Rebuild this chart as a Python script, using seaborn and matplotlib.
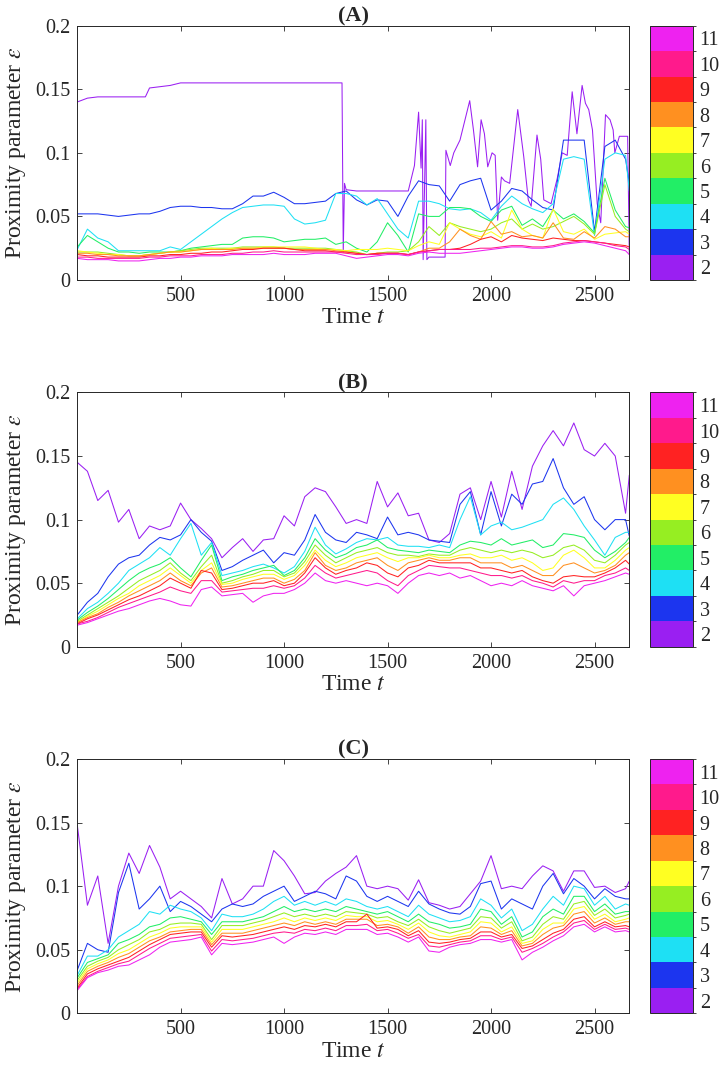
import numpy as np
import pandas as pd
import seaborn as sns
import matplotlib.pyplot as plt
from matplotlib.colors import ListedColormap, BoundaryNorm
from matplotlib.cm import ScalarMappable

# Proximity parameter eps per cluster count k
# values are in units of 1e-3, sampled at t = 1, 50, 100, ..., 2650, 2668

t_grid = [1] + list(range(50, 2651, 50)) + [2668]
k_list = [2, 3, 4, 5, 6, 7, 8, 9, 10, 11]
k_colors = ['#9a1ff2', '#1c35ef', '#1ee0f4', '#22ee66', '#96ee22',
            '#ffff22', '#ff9020', '#ff2222', '#ff1a8c', '#ee22f0']

# ---- panel A ----
t_a2 = [1, 50, 100, 150, 200, 250, 300, 330, 350, 400, 450, 500,
        550, 600, 650, 700, 750, 800, 850, 900, 950, 1000, 1050, 1100, 1150, 1200, 1250,
        1280, 1286, 1292, 1300, 1350, 1400, 1450, 1500, 1550, 1600, 1630, 1650,
        1662, 1668, 1672, 1685, 1690, 1700, 1750, 1778, 1782, 1803, 1820, 1850,
        1897, 1915, 1935, 1952, 1968, 1984, 2005, 2020, 2032, 2050, 2065, 2090,
        2129, 2158, 2180, 2194, 2222, 2240, 2255, 2290, 2320, 2344, 2368, 2392,
        2415, 2440, 2456, 2472, 2490, 2513, 2530, 2553, 2575, 2590, 2598, 2620,
        2660, 2668]
a2 = [140, 143, 144, 144, 144, 144, 144, 144, 151, 152, 153, 155,
      155, 155, 155, 155, 155, 155, 155, 155, 155, 155, 155, 155, 155, 155, 155,
      155, 22, 76, 71, 70, 70, 70, 70, 70, 70, 90, 132,
      88, 126, 16, 126, 16, 18, 18, 18, 102, 90, 100, 110,
      141, 118, 89, 126, 115, 89, 100, 98, 47, 81, 78, 76,
      134, 97, 63, 58, 114, 95, 63, 60, 80, 100, 98, 148,
      115, 153, 139, 134, 118, 60, 45, 130, 126, 118, 100, 113,
      113, 20]
a3 = [52, 52, 52, 51, 50, 51, 52, 52, 54, 57, 58,
      58, 57, 57, 56, 56, 60, 66, 66, 69, 65,
      60, 60, 61, 62, 68, 70, 63, 59, 63, 62,
      50, 66, 78, 75, 74, 62, 75, 78, 80, 55,
      62, 72, 70, 63, 57, 55, 110, 110, 110, 38,
      105, 110, 95, 76]
a4 = [24, 40, 33, 30, 23, 23, 23, 23, 23, 26, 24,
      30, 36, 42, 48, 53, 57, 58, 59, 59, 58,
      48, 44, 45, 47, 68, 68, 66, 59, 64, 52,
      40, 33, 62, 62, 60, 56, 55, 56, 53, 47,
      58, 66, 60, 56, 53, 60, 95, 97, 95, 35,
      95, 100, 98, 70]
a5 = [26, 35, 30, 25, 22, 22, 21, 22, 22, 22, 23,
      25, 26, 27, 28, 28, 33, 34, 34, 33, 30,
      31, 32, 32, 33, 28, 30, 25, 22, 30, 45,
      35, 22, 52, 50, 50, 57, 57, 56, 50, 46,
      55, 58, 43, 48, 42, 55, 48, 52, 46, 37,
      80, 55, 42, 41]
a6 = [22, 22, 22, 21, 20, 19, 19, 20, 21, 22, 23,
      24, 25, 25, 25, 25, 26, 26, 26, 26, 25,
      25, 25, 25, 25, 24, 23, 22, 20, 21, 22,
      22, 23, 30, 42, 35, 45, 42, 40, 38, 40,
      45, 48, 40, 44, 40, 42, 46, 50, 44, 36,
      75, 50, 40, 38]
a7 = [23, 22, 21, 20, 20, 19, 19, 20, 21, 22, 22,
      23, 24, 25, 24, 25, 25, 25, 26, 26, 26,
      26, 26, 25, 24, 24, 23, 24, 24, 24, 25,
      24, 23, 27, 30, 28, 45, 40, 36, 34, 38,
      33, 55, 40, 35, 33, 56, 38, 36, 40, 32,
      36, 37, 38, 36]
a8 = [21, 21, 20, 20, 19, 19, 19, 20, 21, 22, 22,
      23, 24, 24, 24, 24, 25, 25, 25, 25, 25,
      24, 24, 24, 24, 23, 22, 21, 20, 21, 21,
      21, 20, 22, 25, 25, 30, 40, 35, 32, 46,
      36, 38, 34, 35, 33, 45, 33, 32, 38, 33,
      42, 40, 34, 34]
a9 = [20, 19, 19, 18, 18, 18, 18, 19, 19, 20, 20,
      21, 21, 22, 22, 23, 24, 24, 25, 25, 25,
      24, 23, 23, 23, 22, 22, 21, 20, 21, 21,
      21, 20, 22, 23, 24, 24, 25, 28, 32, 34,
      30, 35, 33, 32, 31, 33, 32, 31, 31, 30,
      29, 28, 27, 26]
a10 = [18, 18, 17, 17, 17, 17, 17, 18, 18, 19, 19,
       19, 20, 20, 20, 21, 21, 22, 22, 23, 22,
       22, 22, 22, 22, 22, 21, 20, 20, 20, 21,
       21, 20, 22, 23, 24, 24, 24, 24, 25, 25,
       26, 27, 27, 26, 26, 27, 29, 30, 31, 30,
       29, 27, 26, 24]
a11 = [17, 16, 16, 16, 15, 15, 15, 16, 17, 17, 18,
       18, 19, 19, 19, 20, 20, 20, 20, 21, 20,
       20, 20, 21, 21, 21, 19, 17, 18, 19, 20,
       20, 19, 21, 22, 21, 21, 21, 22, 23, 24,
       25, 26, 26, 25, 25, 26, 28, 29, 30, 29,
       27, 25, 23, 20]

# ---- panel B ----
b2 = [145, 138, 115, 123, 98, 108, 85, 95, 92, 95, 113,
      100, 93, 85, 70, 78, 85, 75, 84, 85, 103,
      95, 118, 125, 122, 110, 97, 100, 97, 130, 110,
      121, 103, 105, 84, 82, 89, 120, 125, 100, 130,
      102, 138, 108, 142, 158, 170, 158, 176, 155, 150,
      160, 150, 105, 135]
b3 = [25, 35, 42, 55, 65, 70, 72, 80, 86, 84, 88,
      100, 90, 83, 60, 63, 68, 72, 76, 66, 74,
      72, 84, 104, 90, 84, 82, 90, 88, 85, 102,
      88, 90, 88, 84, 83, 82, 112, 122, 88, 122,
      95, 120, 112, 128, 130, 148, 125, 112, 118, 100,
      92, 100, 100, 87]
b4 = [22, 30, 35, 42, 50, 60, 65, 70, 78, 72, 85,
      97, 72, 82, 56, 58, 60, 63, 65, 62, 58,
      63, 75, 94, 80, 73, 77, 82, 85, 84, 86,
      80, 79, 79, 78, 80, 78, 100, 118, 88, 95,
      98, 92, 94, 97, 100, 112, 117, 108, 95, 84,
      72, 86, 90, 90]
b5 = [21, 27, 32, 38, 45, 52, 58, 62, 65, 70, 62,
      55, 68, 80, 52, 55, 57, 60, 62, 64, 56,
      60, 70, 85, 76, 70, 73, 78, 80, 84, 78,
      76, 75, 74, 76, 75, 74, 80, 83, 82, 80,
      85, 80, 82, 84, 78, 80, 89, 88, 86, 76,
      70, 75, 82, 86]
b6 = [20, 25, 30, 35, 40, 46, 52, 56, 60, 66, 58,
      52, 63, 72, 50, 52, 55, 57, 60, 60, 55,
      58, 67, 80, 72, 66, 70, 74, 76, 78, 74,
      72, 72, 71, 73, 72, 72, 76, 78, 76, 74,
      76, 74, 76, 74, 70, 72, 78, 80, 76, 68,
      66, 72, 80, 82]
b7 = [19, 24, 28, 33, 38, 42, 48, 52, 56, 62, 56,
      50, 60, 66, 49, 50, 53, 55, 57, 57, 53,
      56, 64, 76, 68, 63, 66, 70, 72, 74, 70,
      67, 70, 70, 72, 70, 70, 72, 73, 70, 70,
      72, 68, 70, 66, 60, 62, 72, 76, 70, 62,
      62, 68, 76, 78]
b8 = [19, 23, 26, 31, 35, 40, 44, 48, 52, 58, 52,
      48, 58, 62, 47, 48, 50, 52, 54, 54, 50,
      53, 60, 74, 64, 60, 62, 66, 68, 70, 64,
      60, 66, 68, 70, 68, 68, 70, 70, 66, 66,
      66, 62, 64, 60, 56, 56, 64, 66, 62, 58,
      60, 64, 72, 74]
b9 = [18, 22, 25, 29, 33, 37, 40, 44, 48, 54, 50,
      46, 60, 58, 45, 46, 48, 50, 50, 52, 48,
      50, 58, 70, 62, 57, 60, 62, 66, 64, 58,
      55, 62, 64, 68, 66, 66, 66, 66, 62, 62,
      60, 58, 60, 55, 52, 50, 55, 56, 55, 55,
      58, 62, 68, 65]
b10 = [18, 20, 23, 27, 31, 34, 37, 40, 43, 47, 44,
       42, 52, 52, 43, 44, 45, 46, 46, 48, 46,
       48, 54, 64, 58, 54, 56, 58, 60, 58, 52,
       48, 56, 60, 64, 63, 62, 62, 60, 58, 56,
       56, 54, 56, 52, 50, 47, 52, 50, 52, 52,
       56, 58, 62, 60]
b11 = [17, 19, 22, 25, 28, 30, 33, 36, 38, 36, 33,
       32, 45, 47, 40, 41, 42, 35, 40, 42, 42,
       45, 50, 58, 52, 50, 52, 50, 48, 50, 48,
       42, 50, 56, 58, 56, 58, 54, 56, 52, 48,
       50, 48, 52, 48, 46, 44, 48, 40, 48, 50,
       52, 55, 58, 57]

# ---- panel C ----
c2 = [148, 85, 108, 55, 100, 126, 110, 132, 115, 90, 96,
      90, 84, 75, 106, 86, 90, 100, 100, 128, 120,
      108, 94, 95, 104, 110, 115, 124, 100, 98, 100,
      98, 89, 105, 87, 85, 82, 84, 94, 104, 124,
      98, 100, 98, 108, 116, 112, 96, 112, 112, 99,
      100, 95, 98, 104]
c3 = [34, 55, 50, 48, 95, 118, 82, 90, 100, 80, 88,
      84, 78, 72, 82, 86, 84, 86, 92, 96, 100,
      88, 92, 96, 94, 90, 108, 104, 92, 88, 92,
      88, 84, 96, 86, 82, 79, 78, 84, 102, 104,
      82, 90, 86, 82, 100, 110, 94, 106, 100, 90,
      98, 92, 90, 90]
c4 = [30, 45, 45, 50, 60, 65, 70, 80, 78, 85, 82,
      80, 75, 65, 78, 76, 76, 78, 82, 88, 92,
      85, 88, 85, 88, 85, 90, 88, 84, 82, 84,
      80, 76, 85, 78, 75, 72, 73, 76, 90, 85,
      75, 82, 65, 70, 82, 92, 85, 100, 98, 85,
      92, 82, 86, 85]
c5 = [28, 40, 43, 46, 55, 58, 62, 68, 70, 75, 76,
      74, 72, 62, 72, 72, 72, 74, 76, 80, 84,
      80, 82, 80, 82, 80, 84, 82, 80, 78, 80,
      76, 72, 78, 72, 70, 67, 68, 70, 82, 80,
      70, 76, 60, 64, 76, 82, 78, 92, 92, 80,
      86, 78, 80, 80]
c6 = [26, 37, 41, 44, 50, 54, 58, 64, 66, 70, 71,
      71, 70, 58, 69, 69, 69, 71, 73, 76, 79,
      76, 78, 76, 78, 76, 80, 79, 78, 75, 76,
      72, 69, 74, 68, 65, 63, 65, 67, 76, 75,
      67, 72, 57, 60, 70, 76, 74, 86, 88, 77,
      82, 75, 77, 78]
c7 = [24, 35, 39, 42, 47, 50, 55, 60, 63, 67, 68,
      68, 68, 56, 66, 66, 66, 68, 70, 72, 75,
      72, 75, 73, 75, 73, 77, 76, 76, 72, 73,
      70, 66, 71, 64, 61, 60, 62, 64, 72, 71,
      64, 68, 55, 57, 66, 71, 71, 82, 84, 74,
      78, 72, 74, 75]
c8 = [22, 33, 37, 40, 44, 47, 52, 57, 60, 64, 65,
      66, 66, 54, 63, 63, 63, 65, 67, 69, 71,
      69, 72, 70, 72, 70, 74, 74, 74, 69, 70,
      68, 63, 68, 60, 58, 58, 60, 61, 68, 67,
      62, 65, 53, 55, 62, 67, 69, 78, 80, 71,
      75, 70, 72, 72]
c9 = [20, 31, 35, 38, 41, 44, 49, 54, 58, 62, 63,
      64, 64, 52, 61, 60, 61, 62, 64, 66, 68,
      66, 69, 68, 70, 68, 72, 72, 78, 67, 68,
      66, 61, 65, 56, 55, 56, 58, 59, 64, 64,
      60, 62, 51, 53, 58, 63, 66, 74, 76, 68,
      72, 68, 69, 68]
c10 = [19, 29, 33, 36, 39, 41, 46, 51, 55, 59, 60,
       61, 62, 49, 58, 57, 58, 59, 61, 63, 64,
       63, 66, 65, 67, 65, 69, 69, 70, 65, 66,
       63, 59, 62, 53, 52, 54, 56, 57, 61, 61,
       58, 60, 48, 51, 55, 60, 64, 71, 73, 66,
       70, 66, 67, 66]
c11 = [18, 28, 32, 34, 37, 38, 42, 46, 52, 56, 57,
       58, 60, 46, 55, 54, 55, 56, 58, 60, 55,
       60, 63, 62, 64, 62, 66, 66, 66, 62, 63,
       60, 56, 60, 49, 48, 52, 54, 55, 58, 58,
       56, 58, 42, 48, 52, 57, 61, 68, 70, 64,
       68, 64, 65, 64]

panels = {
    '(A)': [(t_a2, a2), (t_grid, a3), (t_grid, a4), (t_grid, a5), (t_grid, a6),
            (t_grid, a7), (t_grid, a8), (t_grid, a9), (t_grid, a10), (t_grid, a11)],
    '(B)': [(t_grid, s) for s in [b2, b3, b4, b5, b6, b7, b8, b9, b10, b11]],
    '(C)': [(t_grid, s) for s in [c2, c3, c4, c5, c6, c7, c8, c9, c10, c11]],
}

rows = []
for name, series in panels.items():
    for k, (tt, vals) in zip(k_list, series):
        for t, v in zip(tt, vals):
            rows.append({'panel': name, 'k': k, 't': t, 'eps': v / 1000})
df = pd.DataFrame(rows)

sns.set_style('ticks')
plt.rcParams['font.family'] = ['Liberation Serif', 'DejaVu Serif']
plt.rcParams['mathtext.fontset'] = 'stix'

fig = plt.figure(figsize=(7.25, 10.74), dpi=100)
bottoms = [0.7393, 0.3978, 0.0565]
cmap = ListedColormap(k_colors)
norm = BoundaryNorm(np.arange(1.5, 12.5, 1), cmap.N)

for name, bot in zip(panels, bottoms):
    ax = fig.add_axes([0.1066, bot, 0.7614, 0.2368])
    sns.lineplot(data=df[df['panel'] == name], x='t', y='eps', hue='k',
                 hue_order=k_list, palette=k_colors, legend=False,
                 linewidth=0.75, estimator=None, sort=False, ax=ax)
    ax.set_xlim(1, 2668)
    ax.set_ylim(0, 0.2)
    ax.set_xticks([500, 1000, 1500, 2000, 2500])
    ax.set_yticks([0, 0.05, 0.1, 0.15, 0.2])
    ax.set_yticklabels(['0', '0.05', '0.1', '0.15', '0.2'])
    ax.tick_params(direction='in', length=3.5, width=0.6, labelsize=14.5,
                   top=True, right=True, colors='#262626', pad=5)
    for sp in ax.spines.values():
        sp.set_color('#262626')
        sp.set_linewidth(0.7)
    ax.set_xlabel('Time $t$', fontsize=17, labelpad=1)
    ax.set_ylabel(r'Proximity parameter $\epsilon$', fontsize=17, labelpad=5)
    ax.set_title(name, fontsize=16, fontweight='bold', pad=3)

    cax = fig.add_axes([0.8966, bot, 0.0589, 0.2368])
    cb = fig.colorbar(ScalarMappable(norm=norm, cmap=cmap), cax=cax,
                      ticks=k_list)
    cb.outline.set_edgecolor('#262626')
    cb.outline.set_linewidth(0.7)
    cax.tick_params(direction='in', length=3, width=0.6, labelsize=14.5,
                    colors='#262626', pad=5)

fig.savefig('out.png', dpi=100)
